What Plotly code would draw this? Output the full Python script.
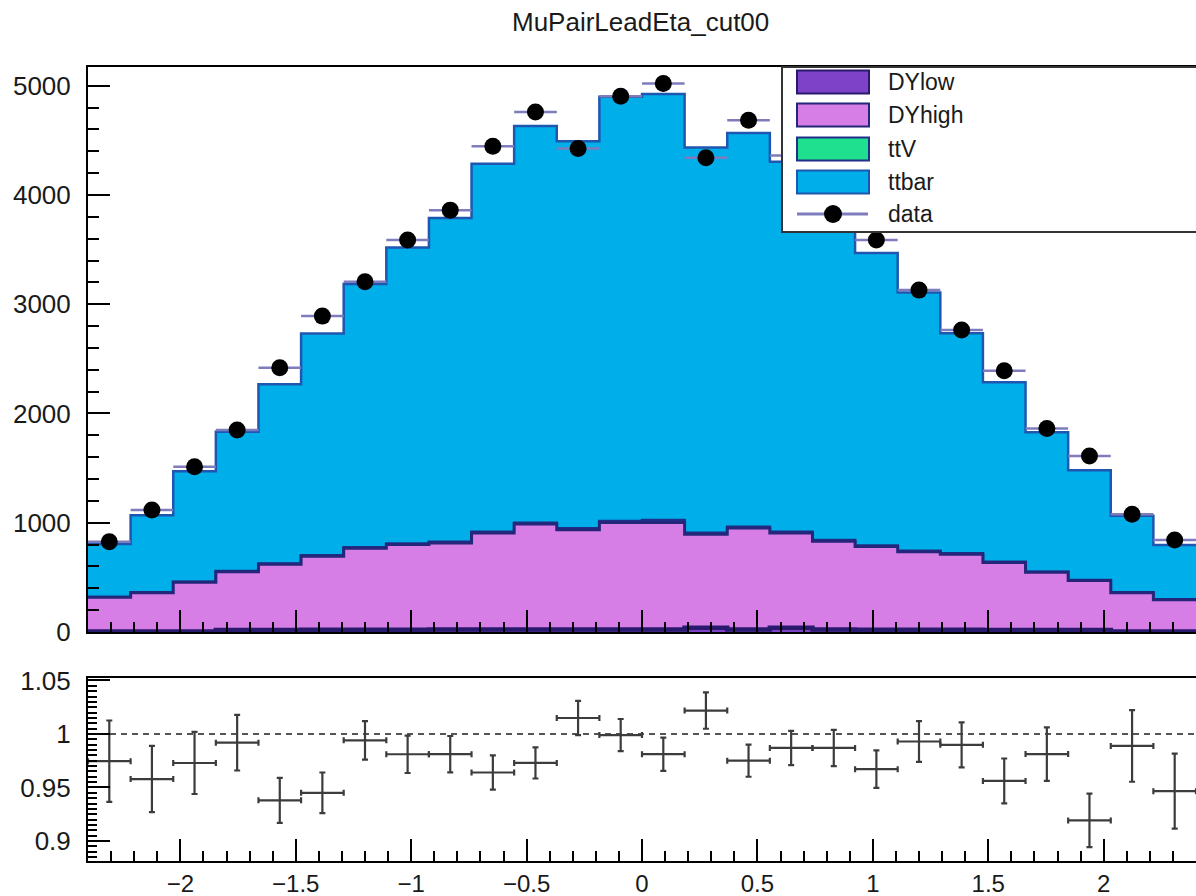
import numpy as np
import plotly.graph_objects as go

# ---- binning: 26 equal bins in leading-muon eta ----
ETA_LO, ETA_HI, N_BINS = -2.4, 2.4, 26
edges = np.linspace(ETA_LO, ETA_HI, N_BINS + 1)
centers = 0.5 * (edges[:-1] + edges[1:])
half_w = 0.5 * (edges[1] - edges[0])

# ---- event counts per bin ----
data = [826, 1116, 1512, 1848, 2418, 2891, 3205, 3587, 3861, 4446, 4760, 4425, 4904,
        5020, 4340, 4684, 4360, 4050, 3587, 3129, 2763, 2391, 1863, 1610, 1077, 842]
dylow = [5, 5, 5, 18, 18, 20, 20, 20, 22, 22, 22, 22, 24,
         24, 38, 24, 38, 22, 20, 20, 20, 18, 18, 18, 5, 5]
dyhigh = [312, 354, 450, 534, 603, 674, 746, 781, 793, 884, 966, 914, 978,
          979, 857, 927, 868, 809, 762, 715, 692, 618, 528, 453, 354, 291]
ttv = [3, 4, 5, 6, 7, 8, 9, 10, 11, 12, 12, 13, 14,
       22, 13, 12, 12, 11, 10, 9, 8, 7, 6, 5, 4, 3]
ttbar = [485, 706, 1011, 1275, 1640, 2030, 2411, 2708, 2962, 3368, 3631, 3542, 3883,
         3900, 3527, 3604, 3385, 3155, 2677, 2363, 2015, 1643, 1276, 1004, 702, 498]
# uncertainty on the MC/data ratio
ratio_err = [0.038, 0.031, 0.029, 0.026, 0.021, 0.019, 0.018, 0.0175, 0.017, 0.016, 0.0145,
             0.016, 0.015, 0.0155, 0.017, 0.015, 0.016, 0.017, 0.0175, 0.019, 0.021,
             0.021, 0.025, 0.025, 0.0335, 0.035]

samples = ["DYlow", "DYhigh", "ttV", "ttbar"]
fill_col = {"DYlow": "#7d42c8", "DYhigh": "#d77de6", "ttV": "#1fe08e", "ttbar": "#00aeea"}
line_col = {"DYlow": "#2a1a6e", "DYhigh": "#232679", "ttV": "#1f2f8a", "ttbar": "#1f57b0"}
line_w = {"DYlow": 4.5, "DYhigh": 3, "ttV": 2.5, "ttbar": 2.5}
DATA_BAR = "#7e7cbc"
RATIO_COL = "#3c3c3c"
FONT = "Liberation Sans"
TXT = "#1a1a1a"

W, H = 1196, 896


def fx(p):
    return p / W


def fy(p):
    return 1 - p / H


# stacked cumulative sums, bottom to top
counts = {"DYlow": np.array(dylow), "DYhigh": np.array(dyhigh),
          "ttV": np.array(ttv), "ttbar": np.array(ttbar)}
cum = {}
run = np.zeros(N_BINS)
for s in samples:
    run = run + counts[s]
    cum[s] = run.copy()
total = cum["ttbar"]
data_arr = np.array(data, dtype=float)
ratio = total / data_arr

fig = go.Figure()

# draw the stack from the top component down so lower ones sit in front
for s in reversed(samples):
    y = np.append(cum[s], cum[s][-1])
    fig.add_trace(go.Scatter(
        x=edges, y=y, mode="lines", line_shape="hv",
        line=dict(color=line_col[s], width=line_w[s]),
        fill="tozeroy", fillcolor=fill_col[s],
        xaxis="x", yaxis="y", hoverinfo="skip", name=s))

# data points
fig.add_trace(go.Scatter(
    x=centers, y=data, mode="markers",
    marker=dict(color="black", size=17),
    error_x=dict(type="constant", value=half_w, color=DATA_BAR, thickness=2.5, width=0),
    error_y=dict(type="data", array=np.sqrt(data_arr), color=DATA_BAR, thickness=2.5, width=0),
    xaxis="x", yaxis="y", name="data"))

# ratio panel
fig.add_trace(go.Scatter(
    x=centers, y=ratio, mode="markers",
    marker=dict(color=RATIO_COL, size=2),
    error_x=dict(type="constant", value=half_w, color=RATIO_COL, thickness=2.2, width=3),
    error_y=dict(type="data", array=ratio_err, color=RATIO_COL, thickness=2.2, width=3),
    xaxis="x2", yaxis="y2", name="ratio"))

shapes = [dict(type="line", xref="x2", yref="y2", x0=ETA_LO, x1=ETA_HI, y0=1, y1=1,
               line=dict(color="#555555", width=2, dash="6px,5px"), layer="below")]

# legend box
LEG_L, LEG_T, LEG_B = 782, 67, 232
shapes.append(dict(type="rect", xref="paper", yref="paper",
                   x0=fx(LEG_L), x1=1.02, y0=fy(LEG_B), y1=fy(LEG_T),
                   fillcolor="white", line=dict(color="#333333", width=2)))
entry_y = [82, 115, 149, 182, 214]
annotations = []
for s, yy in zip(samples, entry_y[:4]):
    shapes.append(dict(type="rect", xref="paper", yref="paper",
                       x0=fx(797), x1=fx(869), y0=fy(yy + 11.5), y1=fy(yy - 11.5),
                       fillcolor=fill_col[s], line=dict(color=line_col[s], width=2)))
for s, yy in zip(samples + ["data"], entry_y):
    annotations.append(dict(text=s, xref="paper", yref="paper", x=fx(886), y=fy(yy),
                            xanchor="left", yanchor="middle", showarrow=False,
                            font=dict(family=FONT, size=23, color=TXT)))
yd = entry_y[4]
shapes.append(dict(type="line", xref="paper", yref="paper", x0=fx(797), x1=fx(868),
                   y0=fy(yd), y1=fy(yd), line=dict(color=DATA_BAR, width=3)))
shapes.append(dict(type="circle", xref="paper", yref="paper",
                   x0=fx(833 - 9), x1=fx(833 + 9), y0=fy(yd + 9), y1=fy(yd - 9),
                   fillcolor="black", line=dict(color="black", width=0)))

annotations.append(dict(text="MuPairLeadEta_cut00", xref="paper", yref="paper",
                        x=fx(640), y=fy(22), xanchor="center", yanchor="middle",
                        showarrow=False, font=dict(family=FONT, size=26, color=TXT)))

X_DOM = [fx(88), 1.0]
common = dict(showline=True, linecolor="black", linewidth=2,
              ticks="inside", tickcolor="black", tickwidth=2, ticklen=22,
              showgrid=False, zeroline=False, automargin=False,
              tickfont=dict(family=FONT, size=26, color=TXT))

fig.update_layout(
    width=W, height=H, margin=dict(l=0, r=0, t=0, b=0, pad=0, autoexpand=False),
    paper_bgcolor="white", plot_bgcolor="white", showlegend=False,
    xaxis=dict(domain=X_DOM, anchor="y", range=[ETA_LO, ETA_HI], mirror=True,
               dtick=0.5, tick0=0, showticklabels=False,
               minor=dict(dtick=0.1, ticks="inside", ticklen=10, tickwidth=2,
                          tickcolor="black", showgrid=False), **common),
    yaxis=dict(domain=[fy(632), fy(67)], anchor="x", range=[0, 5171],
               dtick=1000, tick0=0, ticklabelstandoff=10,
               minor=dict(dtick=200, ticks="inside", ticklen=11, tickwidth=2,
                          tickcolor="black", showgrid=False), **common),
    xaxis2=dict(domain=X_DOM, anchor="y2", range=[ETA_LO, ETA_HI], mirror=True,
                dtick=0.5, tick0=0, ticklabelstandoff=0,
                minor=dict(dtick=0.1, ticks="inside", ticklen=10, tickwidth=2,
                           tickcolor="black", showgrid=False), **common),
    yaxis2=dict(domain=[fy(861), fy(678)], anchor="x2", range=[0.8813, 1.0523],
                dtick=0.05, tick0=1, ticklabelstandoff=10,
                minor=dict(dtick=0.005, ticks="inside", ticklen=9, tickwidth=2,
                           tickcolor="black", showgrid=False), **common),
    shapes=shapes, annotations=annotations,
)
# bottom tick labels slightly smaller so they sit fully inside the canvas
fig.update_xaxes(tickfont=dict(size=24), selector=dict(anchor="y2"))

fig.write_html("out.html")
